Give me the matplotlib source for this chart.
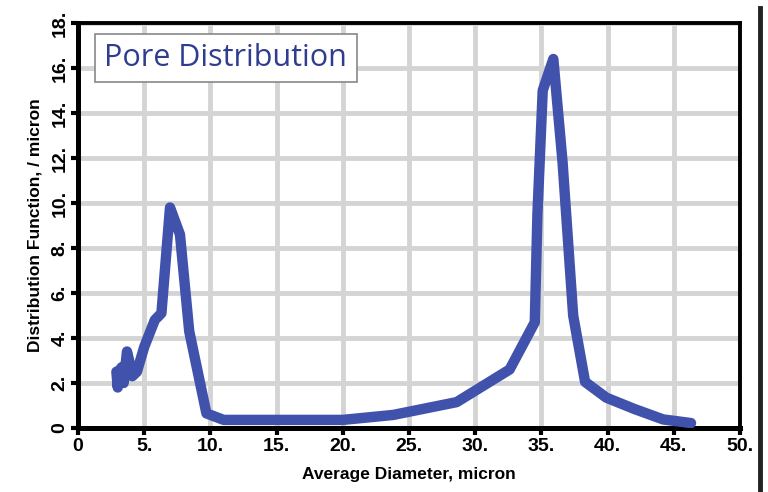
import numpy as np
import matplotlib
matplotlib.use('Agg')
from matplotlib import pyplot as plt
from matplotlib.lines import Line2D

# pore distribution curve
diameter = [2.9, 3.0, 3.05, 3.3, 3.45, 3.7, 3.9, 4.1, 4.45, 5.0, 5.8, 6.3, 6.95, 7.7,
            8.4, 9.7, 11.0, 15.0, 20.0, 23.8, 28.6, 32.6, 34.5, 34.7, 35.1, 35.9,
            36.6, 37.4, 38.3, 39.9, 42.0, 44.2, 46.3]
distribution = [2.5, 1.8, 2.5, 2.7, 2.0, 3.4, 2.9, 2.3, 2.5, 3.6, 4.8, 5.1, 9.8, 8.6,
                4.3, 0.65, 0.36, 0.36, 0.36, 0.58, 1.15, 2.6, 4.7, 9.5, 15.0, 16.4,
                11.8, 5.0, 2.05, 1.35, 0.85, 0.38, 0.22]

xticks = [0, 5, 10, 15, 20, 25, 30, 35, 40, 45, 50]
xlabels = ['0', '5.', '10.', '15.', '20.', '25.', '30.', '35.', '40.', '45.', '50.']
yticks = [0, 2, 4, 6, 8, 10, 12, 14, 16, 18]
ylabels = ['0', '2.', '4.', '6.', '8.', '10.', '12.', '14.', '16.', '18.']

plt.rcParams['font.family'] = ['Liberation Sans', 'DejaVu Sans']

fig = plt.figure(figsize=(7.68, 4.92), dpi=100)
ax = fig.add_axes([78 / 768, 1 - 428 / 492, 662 / 768, 405 / 492])

ax.plot(diameter, distribution, color='#4152ad', lw=7.5,
        solid_joinstyle='round', solid_capstyle='round', zorder=3)

ax.set_xlim(0, 50)
ax.set_ylim(0, 18)
ax.set_xticks(xticks)
ax.set_xticklabels(xlabels, fontsize=14, fontweight='bold')
ax.set_yticks(yticks)
ax.set_yticklabels(ylabels, fontsize=14, fontweight='bold', rotation=90, va='center')
ax.grid(True, color='#d4d4d4', lw=3.5, zorder=0)
ax.set_axisbelow(True)
ax.tick_params(direction='out', length=5, width=3, pad=2)

for side in ['left', 'bottom']:
    ax.spines[side].set_linewidth(3.6)
for side in ['top', 'right']:
    ax.spines[side].set_linewidth(2.8)

ax.set_xlabel('Average Diameter, micron', fontsize=12.5, fontweight='bold', labelpad=9)
ax.set_ylabel('Distribution Function, / micron', fontsize=12.5, fontweight='bold', labelpad=6)

ax.text(0.04, 0.95, 'Pore Distribution', transform=ax.transAxes, fontsize=22,
        family=['Open Sans', 'DejaVu Sans'], color='#2f3c8f', va='top', ha='left',
        bbox=dict(boxstyle='square,pad=0.3', fc='white', ec='#888888', lw=1.2), zorder=5)

# dark bar along the right edge of the picture
fig.add_artist(Line2D([760 / 768, 760 / 768], [0, 1 - 8 / 492], color='#222222', lw=3.5))

fig.savefig('out.png', dpi=100)
